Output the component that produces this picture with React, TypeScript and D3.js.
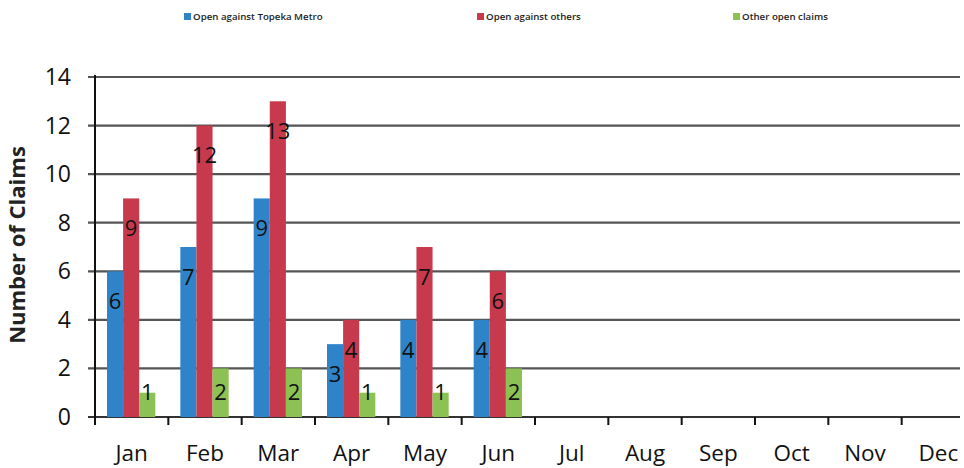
import React from 'react';
import * as d3 from 'd3';

const months = ['Jan', 'Feb', 'Mar', 'Apr', 'May', 'Jun', 'Jul', 'Aug', 'Sep', 'Oct', 'Nov', 'Dec'];
const topekaMetro = [6, 7, 9, 3, 4, 4, null, null, null, null, null, null];
const others = [9, 12, 13, 4, 7, 6, null, null, null, null, null, null];
const otherClaims = [1, 2, 2, 1, 1, 2, null, null, null, null, null, null];
const yTicks = [0, 2, 4, 6, 8, 10, 12, 14];

const seriesList = [
  { name: 'Open against Topeka Metro', values: topekaMetro, color: '#2f84c9', lx: 184 },
  { name: 'Open against others', values: others, color: '#c73a4d', lx: 477 },
  { name: 'Other open claims', values: otherClaims, color: '#8cc153', lx: 733 },
];

const W = 964;
const H = 468;
const font = "'Open Sans', 'Noto Sans', sans-serif";

export default function App() {
  const left = 95;
  const x = d3.scaleBand<string>().domain(months).range([left, 975]).paddingInner(0).paddingOuter(0);
  const y = d3.scaleLinear().domain([0, 14]).range([417, 77]);
  const inner = d3.scaleBand<number>().domain([0, 1, 2]).range([12, x.bandwidth() - 13]);
  const base = y(0);

  return (
    <svg width={W} height={H} style={{ position: 'absolute', left: 0, top: 0, background: '#fff' }}>
      {/* legend */}
      {seriesList.map((s) => (
        <g key={s.name}>
          <rect x={s.lx} y={13} width={7} height={7} fill={s.color} />
          <text x={s.lx + 9} y={20} fontSize={9.7} fontWeight={600} fontFamily={font} fill="#222">
            {s.name}
          </text>
        </g>
      ))}

      {/* gridlines + y ticks */}
      {yTicks.map((t) => (
        <g key={t}>
          <line x1={88} x2={960} y1={y(t)} y2={y(t)} stroke={t === 0 ? '#333' : '#555'} strokeWidth={2.2} />
          <text x={71} y={y(t)} dy="0.35em" textAnchor="end" fontSize={23} fontFamily={font} fill="#111">
            {t}
          </text>
        </g>
      ))}

      {/* axes */}
      <line x1={left} x2={left} y1={75} y2={425} stroke="#111" strokeWidth={2} />
      {months.map((m) => (
        <g key={m}>
          <line x1={x(m)! + x.bandwidth()} x2={x(m)! + x.bandwidth()} y1={base} y2={425} stroke="#111" strokeWidth={2} />
          <text x={x(m)! + x.bandwidth() / 2} y={461} textAnchor="middle" fontSize={22.5} fontFamily={font} fill="#111">
            {m}
          </text>
        </g>
      ))}

      <text
        transform={`translate(25,245) rotate(-90)`}
        textAnchor="middle"
        fontSize={22}
        fontWeight={700}
        fontFamily={font}
        fill="#222"
      >
        Number of Claims
      </text>

      {/* bars */}
      {seriesList.map((s, si) =>
        s.values.map((v, i) => {
          if (v == null) return null;
          const bx = x(months[i])! + inner(si)!;
          const bw = inner.bandwidth();
          const top = y(v);
          const ly = Math.min(top + 30, base - 25);
          return (
            <g key={s.name + i}>
              <rect x={bx} y={top} width={bw} height={base - top} fill={s.color} />
              <text x={bx + bw / 2} y={ly} dy="0.35em" textAnchor="middle" fontSize={22} fontFamily={font} fill="#111">
                {v}
              </text>
            </g>
          );
        })
      )}
    </svg>
  );
}
